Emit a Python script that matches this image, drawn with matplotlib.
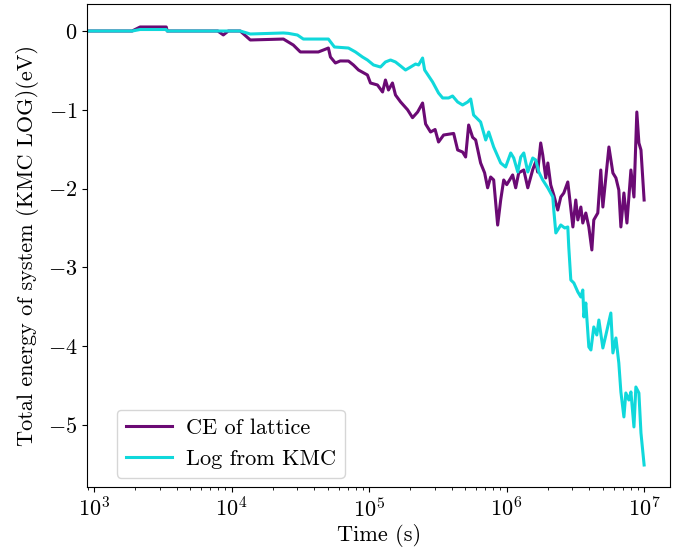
import numpy as np
import matplotlib
matplotlib.use("Agg")
import matplotlib.pyplot as plt

plt.rcParams.update({
    "font.family": "serif",
    "font.serif": ["cmr10"],
    "mathtext.fontset": "cm",
    "axes.formatter.use_mathtext": True,
    "axes.unicode_minus": True,
    "font.size": 16,
})

# Time stamps stored as log10(seconds); energies in eV
ce_log_time = [
    2.90, 3.277, 3.335, 3.525, 3.532, 3.90, 3.94, 3.976, 4.063, 4.136,
    4.377, 4.413, 4.449, 4.500, 4.631, 4.668, 4.704, 4.719, 4.755, 4.79,
    4.850, 4.886, 4.923, 4.988, 5.010, 5.061, 5.098, 5.119, 5.141, 5.170,
    5.192, 5.229, 5.280, 5.316, 5.353, 5.389, 5.411, 5.447, 5.48, 5.505,
    5.542, 5.615, 5.644, 5.68, 5.702, 5.724, 5.753, 5.775, 5.811, 5.840,
    5.862, 5.884, 5.906, 5.935, 5.957, 5.979, 6.001, 6.044, 6.066, 6.088,
    6.125, 6.154, 6.19, 6.212, 6.226, 6.248, 6.263, 6.285, 6.30, 6.321,
    6.343, 6.372, 6.394, 6.416, 6.445, 6.46, 6.482, 6.503, 6.518, 6.54,
    6.554, 6.576, 6.598, 6.62, 6.634, 6.663, 6.685, 6.70, 6.722, 6.744,
    6.773, 6.795, 6.816, 6.831, 6.853, 6.875, 6.904, 6.926, 6.947, 6.962,
    6.977, 7.0,
]
ce_energy = [
    0.0, 0.0, 0.051, 0.051, 0.0, 0.0, -0.05, 0.0, 0.0, -0.114,
    -0.102, -0.14, -0.178, -0.266, -0.266, -0.241, -0.216, -0.33, -0.406, -0.38,
    -0.381, -0.431, -0.495, -0.558, -0.66, -0.685, -0.774, -0.622, -0.749, -0.66,
    -0.812, -0.9, -1.0, -1.1, -1.028, -0.914, -1.18, -1.282, -1.25, -1.409,
    -1.32, -1.30, -1.51, -1.536, -1.599, -1.193, -1.35, -1.383, -1.675, -1.80,
    -1.99, -1.853, -1.89, -2.463, -2.145, -1.891, -1.95, -1.827, -1.99, -1.80,
    -1.764, -1.99, -1.76, -1.66, -1.79, -1.421, -1.574, -1.865, -1.675, -1.954,
    -2.081, -2.272, -2.107, -2.056, -1.916, -2.145, -2.487, -2.145, -2.398, -2.234,
    -2.437, -2.31, -2.487, -2.779, -2.398, -2.31, -1.764, -2.234, -1.853, -1.472,
    -1.802, -1.865, -2.018, -2.487, -2.056, -2.437, -1.764, -2.107, -1.028, -1.421,
    -1.51, -2.145,
]

kmc_log_time = [
    2.90, 3.277, 3.335, 3.525, 3.532, 4.063, 4.136, 4.377, 4.413, 4.479,
    4.522, 4.704, 4.748, 4.85, 4.901, 4.952, 4.988, 5.032, 5.083, 5.119,
    5.156, 5.192, 5.229, 5.265, 5.302, 5.338, 5.36, 5.389, 5.404, 5.462,
    5.505, 5.535, 5.578, 5.607, 5.644, 5.680, 5.717, 5.739, 5.760, 5.811,
    5.848, 5.870, 5.906, 5.957, 5.993, 6.03, 6.052, 6.081, 6.103, 6.125,
    6.154, 6.19, 6.212, 6.234, 6.263, 6.30, 6.336, 6.343, 6.358, 6.394,
    6.423, 6.445, 6.452, 6.467, 6.489, 6.518, 6.54, 6.554, 6.562, 6.576,
    6.598, 6.613, 6.634, 6.656, 6.671, 6.70, 6.722, 6.758, 6.773, 6.795,
    6.816, 6.831, 6.853, 6.867, 6.889, 6.904, 6.926, 6.940, 6.962, 6.977,
    7.0,
]
kmc_energy = [
    0.0, 0.0, 0.019, 0.019, 0.0, 0.0, -0.038, -0.025, -0.03, -0.051,
    -0.102, -0.102, -0.203, -0.216, -0.266, -0.33, -0.368, -0.431, -0.457, -0.393,
    -0.368, -0.393, -0.444, -0.495, -0.457, -0.419, -0.431, -0.343, -0.495, -0.647,
    -0.787, -0.85, -0.85, -0.825, -0.901, -0.939, -0.901, -0.863, -1.066, -1.155,
    -1.383, -1.282, -1.472, -1.675, -1.726, -1.548, -1.612, -1.789, -1.599, -1.548,
    -1.789, -1.612, -1.637, -1.789, -1.891, -1.992, -2.107, -2.272, -2.563, -2.462,
    -2.5, -2.487, -2.741, -3.16, -3.198, -3.312, -3.376, -3.287, -3.629, -3.452,
    -4.01, -4.048, -3.756, -3.858, -3.668, -4.023, -3.858, -3.579, -4.086, -3.896,
    -4.213, -4.581, -4.898, -4.594, -4.683, -4.581, -5.025, -4.518, -4.594, -5.101,
    -5.508,
]

series_labels = ["CE of lattice", "Log from KMC"]
series_colors = ["#6b0a74", "#10d8db"]

fig = plt.figure(figsize=(6.88, 5.60), dpi=100)
ax = fig.add_axes([0.1265, 0.1304, 0.8475, 0.8625])

ax.plot(10 ** np.array(ce_log_time), ce_energy, color=series_colors[0],
        lw=2.2, label=series_labels[0])
ax.plot(10 ** np.array(kmc_log_time), kmc_energy, color=series_colors[1],
        lw=2.2, label=series_labels[1])

ax.set_xscale("log")
ax.set_xlim(10 ** 2.949, 10 ** 7.189)
ax.set_ylim(-5.787, 0.343)
ax.set_yticks([0, -1, -2, -3, -4, -5])

ax.set_xlabel("Time (s)", labelpad=2)
ax.set_ylabel("Total energy of system (KMC LOG)(eV)", labelpad=6)

ax.legend(loc="lower left", bbox_to_anchor=(0.051, 0.019), borderaxespad=0,
          handlelength=2.1, handletextpad=0.6)

fig.savefig("out.png", dpi=100)
